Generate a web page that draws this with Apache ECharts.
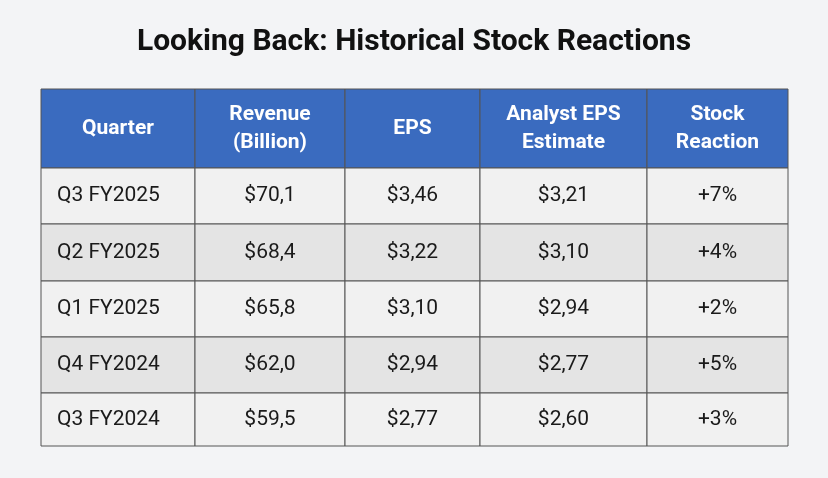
<!DOCTYPE html>
<html>
<head>
<meta charset="utf-8">
<script src="https://cdn.jsdelivr.net/npm/echarts@6/dist/echarts.min.js"></script>
<style>
  html, body { margin: 0; padding: 0; background: #f3f4f6; }
  #main { width: 828px; height: 478px; }
</style>
</head>
<body>
<div id="main"></div>
<script>
// table data
var headers = ['Quarter', 'Revenue\n(Billion)', 'EPS', 'Analyst EPS\nEstimate', 'Stock\nReaction'];
var quarters = ['Q3 FY2025', 'Q2 FY2025', 'Q1 FY2025', 'Q4 FY2024', 'Q3 FY2024'];
var revenue = ['$70,1', '$68,4', '$65,8', '$62,0', '$59,5'];
var eps = ['$3,46', '$3,22', '$3,10', '$2,94', '$2,77'];
var estimate = ['$3,21', '$3,10', '$2,94', '$2,77', '$2,60'];
var reaction = ['+7%', '+4%', '+2%', '+5%', '+3%'];

// layout: column edges and row edges in axis units
var colEdges = [0, 154, 304, 439, 606, 747];
var rowEdges = [0, 79, 135, 192, 248, 304, 357];

var cells = [];
headers.forEach(function (h, c) { cells.push([c, 0, h]); });
var cols = [quarters, revenue, eps, estimate, reaction];
quarters.forEach(function (q, r) {
    cols.forEach(function (col, c) { cells.push([c, r + 1, col[r]]); });
});

var chart = echarts.init(document.getElementById('main'));
chart.setOption({
    backgroundColor: '#f3f4f6',
    title: {
        text: 'Looking Back: Historical Stock Reactions',
        left: 'center', top: 22,
        textStyle: { fontFamily: 'Roboto', fontWeight: 'bold', fontSize: 30, color: '#111' }
    },
    grid: { left: 41, right: 40, top: 89, bottom: 32 },
    xAxis: { type: 'value', min: 0, max: 747, show: false },
    yAxis: { type: 'value', min: 0, max: 357, inverse: true, show: false },
    series: [{
        type: 'custom',
        data: cells,
        renderItem: function (params, api) {
            var c = api.value(0), r = api.value(1);
            var p0 = api.coord([colEdges[c], rowEdges[r]]);
            var p1 = api.coord([colEdges[c + 1], rowEdges[r + 1]]);
            var header = r === 0;
            var fill = header ? '#3a6bbf' : (r % 2 === 1 ? '#f1f1f1' : '#e4e4e4');
            var left = c === 0 && !header;
            return {
                type: 'group',
                children: [{
                    type: 'rect',
                    shape: { x: p0[0], y: p0[1], width: p1[0] - p0[0], height: p1[1] - p0[1] },
                    style: { fill: fill, stroke: '#555', lineWidth: 1 }
                }, {
                    type: 'text',
                    style: {
                        text: cells[params.dataIndex][2],
                        x: left ? p0[0] + 16 : (p0[0] + p1[0]) / 2,
                        y: (p0[1] + p1[1]) / 2,
                        align: left ? 'left' : 'center',
                        verticalAlign: 'middle',
                        fontFamily: 'Roboto',
                        fontSize: 21,
                        lineHeight: 28,
                        fontWeight: header ? 'bold' : 'normal',
                        fill: header ? '#fff' : '#1a1a1a'
                    }
                }]
            };
        }
    }]
});
</script>
</body>
</html>
